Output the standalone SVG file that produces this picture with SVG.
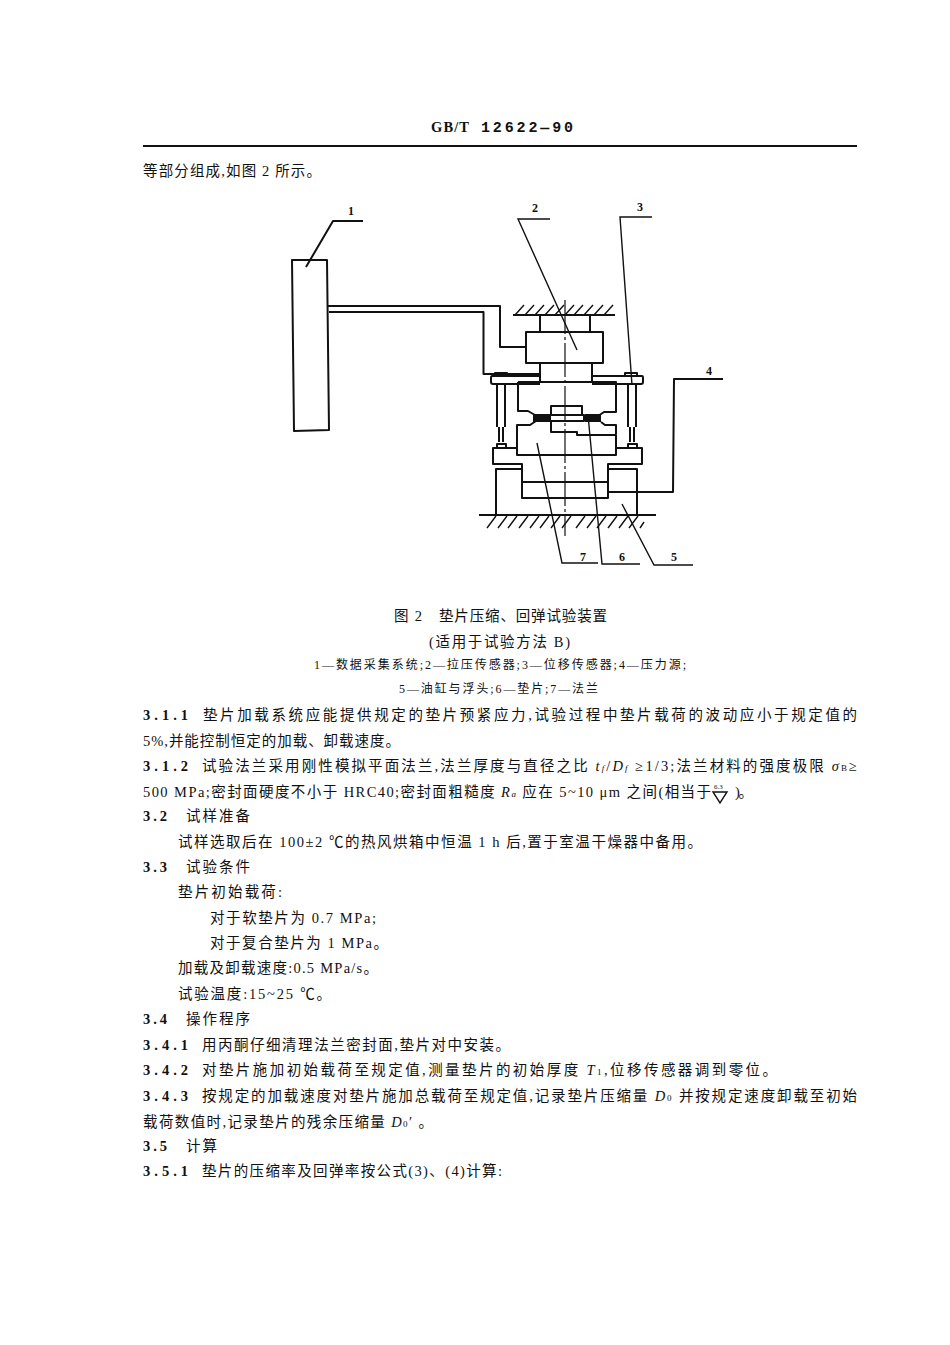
<svg xmlns="http://www.w3.org/2000/svg" width="950" height="1345" viewBox="0 0 950 1345">
<style>
.l{fill:none;stroke:#111;stroke-width:2;stroke-linejoin:round}
.t{fill:none;stroke:#111;stroke-width:1.4}
.c{fill:none;stroke:#111;stroke-width:1.2;stroke-dasharray:34 3 3 3}
text{font-family:"Liberation Serif","Noto Sans CJK SC",serif;font-size:14.500px;fill:#111}
.s{font-size:12px}
.n{font-size:12px;font-weight:bold}
.h{font-family:"Liberation Mono",monospace;font-size:15px;font-weight:bold}
.b{font-weight:bold}
.i{font-style:italic}
</style>
<rect width="950" height="1345" fill="#fff"/>
<g id="header">
<text class="b" x="431" y="132" textLength="38">GB/T</text>
<text class="h" x="481" y="132" textLength="92">12622—90</text>
<path d="M143 146H857" stroke="#111" stroke-width="1.8" fill="none"/>
</g>
<text x="143" y="176" textLength="178">等部分组成,如图 2 所示。</text>
<g id="node-1-data-system">
<path class="l" d="M292 260H327L329 430L294 431Z"/>
</g>
<g id="connectors">
<path class="l" d="M328 306H500V347H527"/>
<path class="l" d="M329 312H483.500V374H541"/>
<path class="l" d="M306 267L333 221H363"/>
<path class="t" d="M577 350L518 219H550"/>
<path class="t" d="M632 385L620 217H652"/>
<path class="l" d="M609 492H673L674 379H723"/>
<path class="t" d="M537 443L562 563H598"/>
<path class="t" d="M588 415L602 564H640"/>
<path class="t" d="M622 504L654 565H693"/>
</g>
<g id="labels">
<text class="n" x="348" y="215">1</text>
<text class="n" x="532" y="212">2</text>
<text class="n" x="637" y="211">3</text>
<text class="n" x="706" y="375">4</text>
<text class="n" x="671" y="561">5</text>
<text class="n" x="619" y="561">6</text>
<text class="n" x="580" y="561">7</text>
</g>
<g id="node-2-load-cell">
<path class="l" d="M513 315H615"/>
<path class="t" d="M515 315l9-10M525 315l9-10M535 315l9-10M545 315l9-10M555 315l9-10M565 315l9-10M574 315l9-10M584 315l9-10M594 315l9-10M604 315l9-10"/>
<path class="l" d="M540 315V332M590 315V332"/>
<rect class="l" x="526" y="332" width="77" height="31"/>
<path class="l" d="M540 363V382M592 363V382"/>
</g>
<g id="node-3-sensors">
<path class="l" d="M540 376H495M592 376H640M540 384H495M592 384H640"/>
<path class="l" d="M495 376H492Q491 376 491 378V382Q491 384 493 384H495M640 376H642Q643 376 643 378V382Q643 384 641 384H640"/>
<path class="l" d="M495 376V373H507V376M625 376V373H637V376"/>
<path class="l" d="M497 384V427M505 384V427M499 427V442M503 427V442M497 448V444H506V448"/>
<path class="l" d="M628 384V427M636 384V427M630 427V442M634 427V442M628 448V444H637V448"/>
</g>
<g id="node-7-flange">
<path class="l" d="M518 382H616V412H604L598 416M518 382V411H528L535 415"/>
<path class="l" d="M551 414V406H582V414M550 415H584V421H550ZM551 422V432H577V435H616V455H517V425H530L536 421M601 422L605 425H616V434"/>
</g>
<g id="node-6-gasket">
<rect x="533" y="414" width="17" height="8" fill="#111"/>
<rect x="585" y="414" width="16" height="8" fill="#111"/>
</g>
<g id="node-5-cylinder">
<path class="l" d="M516 448H493V464H522V498H608V464H642V448H616"/>
<path class="l" d="M522 482H608"/>
<path class="l" d="M522 469H496V515M608 469H637V515"/>
<path class="l" d="M479 515H656"/>
<path class="t" d="M487 528l9-12M498 528l9-12M508 528l9-12M519 528l9-12M530 528l9-12M540 528l9-12M551 528l9-12M562 528l9-12M576 528l9-12M587 528l9-12M597 528l9-12M608 528l9-12M619 528l9-12M629 528l9-12M640 528l4-6"/>
</g>
<path id="centerline" class="c" d="M565 300V536"/>
<g id="caption">
<text x="394" y="621" textLength="28">图 2</text>
<text x="439" y="621" textLength="168">垫片压缩、回弹试验装置</text>
<text x="429" y="647" textLength="141">(适用于试验方法 B)</text>
<text class="s" x="314" y="669" textLength="372">1—数据采集系统;2—拉压传感器;3—位移传感器;4—压力源;</text>
<text class="s" x="399" y="693" textLength="199">5—油缸与浮头;6—垫片;7—法兰</text>
</g>
<g id="body">
<text class="b" x="143" y="720" textLength="45">3.1.1</text>
<text x="203" y="720" textLength="654">垫片加载系统应能提供规定的垫片预紧应力,试验过程中垫片载荷的波动应小于规定值的</text>
<text x="143" y="746" textLength="257">5%,并能控制恒定的加载、卸载速度。</text>
<text class="b" x="143" y="771" textLength="45">3.1.2</text>
<text x="202" y="771" textLength="655">试验法兰采用刚性模拟平面法兰,法兰厚度与直径之比 <tspan class="i">t</tspan><tspan class="i" font-size="9">f</tspan>/<tspan class="i">D</tspan><tspan class="i" font-size="9">f</tspan> ≥1/3;法兰材料的强度极限 <tspan class="i">σ</tspan><tspan font-size="9">B</tspan>≥</text>
<text x="143" y="797" textLength="568">500 MPa;密封面硬度不小于 HRC40;密封面粗糙度 <tspan class="i">R</tspan><tspan class="i" font-size="9">a</tspan> 应在 5~10 μm 之间(相当于</text>
<text style="font-size:7px" x="714" y="789">6.3</text>
<path class="t" d="M713 792H727L720 803Z"/>
<text x="735" y="797" textLength="18">)。</text>
<text class="b" x="143" y="821" textLength="24">3.2</text>
<text x="186" y="821" textLength="64">试样准备</text>
<text x="178" y="847" textLength="524">试样选取后在 100±2 ℃的热风烘箱中恒温 1 h 后,置于室温干燥器中备用。</text>
<text class="b" x="143" y="872" textLength="24">3.3</text>
<text x="186" y="872" textLength="64">试验条件</text>
<text x="178" y="897" textLength="104">垫片初始载荷:</text>
<text x="210" y="923" textLength="166">对于软垫片为 0.7 MPa;</text>
<text x="210" y="948" textLength="178">对于复合垫片为 1 MPa。</text>
<text x="178" y="973" textLength="200">加载及卸载速度:0.5 MPa/s。</text>
<text x="178" y="999" textLength="153">试验温度:15~25 ℃。</text>
<text class="b" x="143" y="1024" textLength="24">3.4</text>
<text x="186" y="1024" textLength="64">操作程序</text>
<text class="b" x="143" y="1050" textLength="45">3.4.1</text>
<text x="202" y="1050" textLength="308">用丙酮仔细清理法兰密封面,垫片对中安装。</text>
<text class="b" x="143" y="1075" textLength="45">3.4.2</text>
<text x="202" y="1075" textLength="575">对垫片施加初始载荷至规定值,测量垫片的初始厚度 <tspan class="i">T</tspan><tspan font-size="9">1</tspan>,位移传感器调到零位。</text>
<text class="b" x="143" y="1101" textLength="45">3.4.3</text>
<text x="202" y="1101" textLength="655">按规定的加载速度对垫片施加总载荷至规定值,记录垫片压缩量 <tspan class="i">D</tspan><tspan font-size="9">0</tspan> 并按规定速度卸载至初始</text>
<text x="143" y="1127" textLength="290">载荷数值时,记录垫片的残余压缩量 <tspan class="i">D</tspan><tspan font-size="9">0</tspan>′ 。</text>
<text class="b" x="143" y="1151" textLength="24">3.5</text>
<text x="186" y="1151" textLength="31">计算</text>
<text class="b" x="143" y="1176" textLength="45">3.5.1</text>
<text x="202" y="1176" textLength="300">垫片的压缩率及回弹率按公式(3)、(4)计算:</text>
</g>
</svg>
